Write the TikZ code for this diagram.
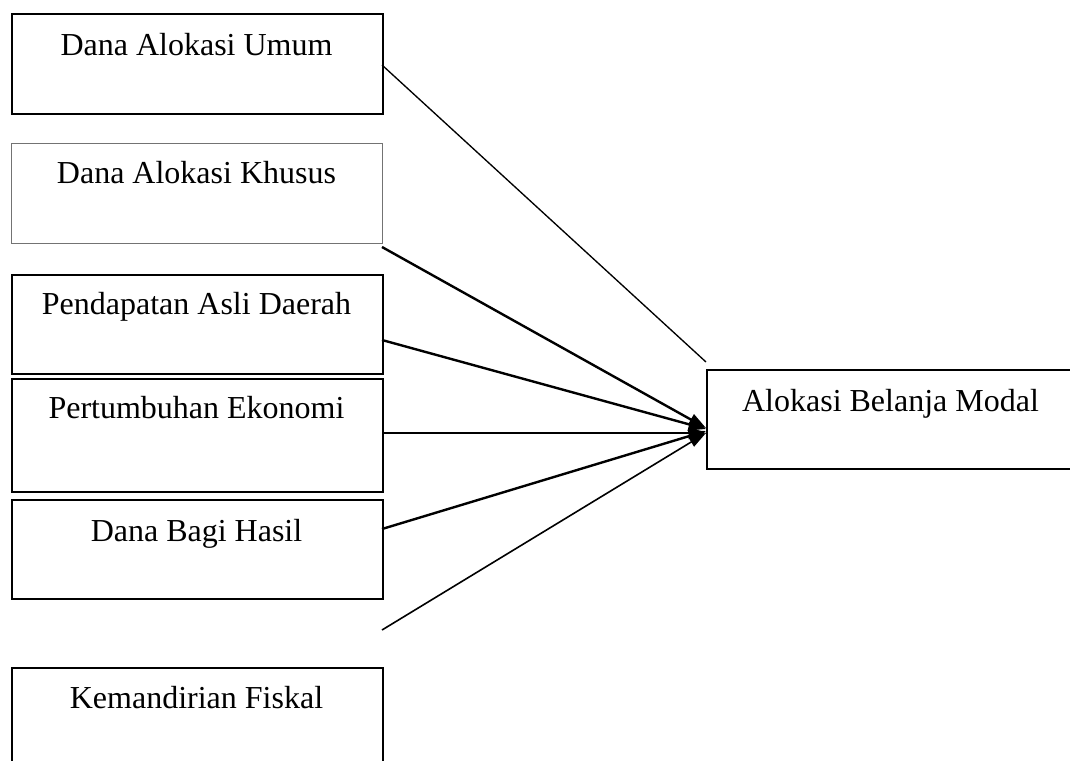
\documentclass[tikz,border=0pt]{standalone}
\usepackage{fontspec}
\setmainfont{Liberation Serif}
\usetikzlibrary{arrows.meta}
\begin{document}
\begin{tikzpicture}[x=0.75pt,y=-0.75pt,
  box/.style={draw=black,line width=1.4pt,rectangle,inner sep=0pt,anchor=north west},
  graybox/.style={box,draw=black!55,line width=1.1pt},
  lbl/.style={anchor=base,inner sep=0pt,font=\fontsize{24pt}{28pt}\selectfont},
  thinline/.style={line width=1pt},
  arr/.style={line width=1.8pt,-{Triangle[length=13pt,width=9pt]}},
  thinarr/.style={line width=1.2pt,-{Triangle[length=13pt,width=8pt]}}]
\useasboundingbox (0,0) rectangle (1070,760);
% left boxes
\node[box,minimum width=371*0.75pt,minimum height=100*0.75pt] (dau) at (11,13) {};
\node[graybox,minimum width=371*0.75pt,minimum height=100*0.75pt] (dak) at (11,143) {};
\node[box,minimum width=371*0.75pt,minimum height=99*0.75pt] (pad) at (11,274) {};
\node[box,minimum width=371*0.75pt,minimum height=113*0.75pt] (pe) at (11,378) {};
\node[box,minimum width=371*0.75pt,minimum height=99*0.75pt] (dbh) at (11,499) {};
\node[box,minimum width=371*0.75pt,minimum height=120*0.75pt] (kf) at (11,667) {};
% right box
\node[box,minimum width=369*0.75pt,minimum height=99*0.75pt] (abm) at (706,369) {};
% labels
\node[lbl] (tdau) at (196.5,55) {Dana Alokasi Umum};
\node[lbl] (tdak) at (196.5,183) {Dana Alokasi Khusus};
\node[lbl] (tpad) at (196.5,314) {Pendapatan Asli Daerah};
\node[lbl] (tpe) at (196.5,418) {Pertumbuhan Ekonomi};
\node[lbl] (tdbh) at (196.5,541) {Dana Bagi Hasil};
\node[lbl] (tkf) at (196.5,708) {Kemandirian Fiskal};
\node[lbl] (tabm) at (890.5,411) {Alokasi Belanja Modal};
% connector points
\coordinate (s1) at (382,65);
\coordinate (e1) at (706,362);
\coordinate (s2) at (382,247);
\coordinate (s3) at (382,340);
\coordinate (s4) at (382,433);
\coordinate (s5) at (382,529);
\coordinate (s6) at (382,630);
\coordinate (t2) at (706,428);
\coordinate (t3) at (706,429);
\coordinate (t4) at (706,433);
\coordinate (t5) at (706,431);
\coordinate (t6) at (706,433);
% connectors
\draw[thinline] (s1) -- (e1);
\draw[arr] (s2) -- (t2);
\draw[arr] (s3) -- (t3);
\draw[arr] (s4) -- (t4);
\draw[arr] (s5) -- (t5);
\draw[thinarr] (s6) -- (t6);
\end{tikzpicture}
\end{document}
